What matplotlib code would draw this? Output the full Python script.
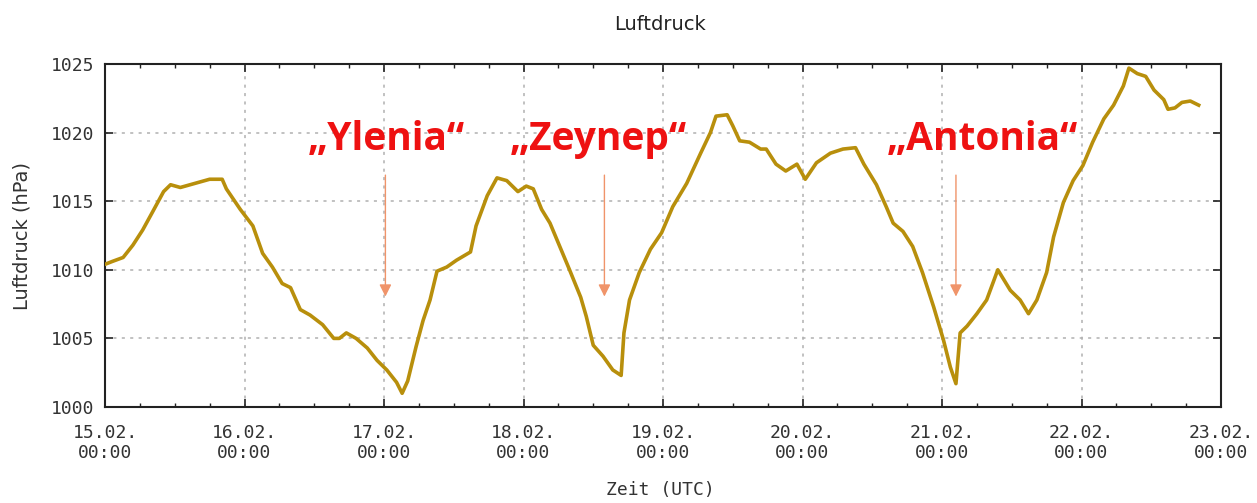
import matplotlib
matplotlib.use("Agg")
import matplotlib.pyplot as plt
import matplotlib.dates as mdates
import pandas as pd
import numpy as np

# ---------------- data ----------------
start = pd.Timestamp("2022-02-15 00:00")
days_since_start = [
    0.00, 0.05, 0.13, 0.20, 0.27, 0.34, 0.42, 0.47, 0.54, 0.61, 0.68, 0.75, 0.84, 0.87,
    0.97, 1.06, 1.13, 1.20, 1.27, 1.33, 1.40, 1.47, 1.56, 1.64, 1.68, 1.73, 1.80, 1.88,
    1.95, 2.02, 2.09, 2.13, 2.17, 2.23, 2.28, 2.33, 2.38, 2.45, 2.52, 2.62, 2.66, 2.74,
    2.81, 2.88, 2.96, 3.02, 3.07, 3.13, 3.19, 3.26, 3.33, 3.41, 3.45, 3.50, 3.57, 3.64,
    3.70, 3.72, 3.76, 3.83, 3.91, 3.99, 4.07, 4.17, 4.27, 4.34, 4.38, 4.46, 4.50, 4.55,
    4.62, 4.70, 4.74, 4.81, 4.88, 4.96, 5.02, 5.10, 5.20, 5.29, 5.38, 5.44, 5.53, 5.60,
    5.65, 5.72, 5.79, 5.86, 5.94, 6.01, 6.06, 6.10, 6.13, 6.18, 6.25, 6.32, 6.40, 6.49,
    6.56, 6.62, 6.68, 6.75, 6.80, 6.87, 6.94, 7.01, 7.08, 7.16, 7.23, 7.30, 7.34, 7.40,
    7.46, 7.52, 7.59, 7.62, 7.67, 7.72, 7.78, 7.84,
]
pressure_hpa = [
    1010.4, 1010.6, 1010.9, 1011.8, 1012.9, 1014.2, 1015.7, 1016.2, 1016.0, 1016.2, 1016.4, 1016.6, 1016.6, 1015.9,
    1014.4, 1013.2, 1011.2, 1010.2, 1009.0, 1008.7, 1007.1, 1006.7, 1006.0, 1005.0, 1005.0, 1005.4, 1005.0, 1004.3,
    1003.4, 1002.7, 1001.8, 1001.0, 1001.9, 1004.4, 1006.3, 1007.8, 1009.9, 1010.2, 1010.7, 1011.3, 1013.2, 1015.4,
    1016.7, 1016.5, 1015.7, 1016.1, 1015.9, 1014.4, 1013.4, 1011.7, 1010.0, 1008.0, 1006.6, 1004.5, 1003.7, 1002.7,
    1002.3, 1005.4, 1007.8, 1009.8, 1011.5, 1012.7, 1014.6, 1016.3, 1018.5, 1020.0, 1021.2, 1021.3, 1020.5, 1019.4,
    1019.3, 1018.8, 1018.8, 1017.7, 1017.2, 1017.7, 1016.6, 1017.8, 1018.5, 1018.8, 1018.9, 1017.7, 1016.2, 1014.6,
    1013.4, 1012.8, 1011.7, 1009.8, 1007.3, 1004.9, 1002.9, 1001.7, 1005.4, 1005.9, 1006.8, 1007.8, 1010.0, 1008.5,
    1007.8, 1006.8, 1007.8, 1009.8, 1012.4, 1014.9, 1016.5, 1017.6, 1019.3, 1021.0, 1022.0, 1023.4, 1024.7, 1024.3,
    1024.1, 1023.1, 1022.4, 1021.7, 1021.8, 1022.2, 1022.3, 1022.0,
]
storm_names = ["\u201eYlenia\u201c", "\u201eZeynep\u201c", "\u201eAntonia\u201c"]
storm_arrow_days = [2.01, 3.58, 6.10]
storm_label_days = [2.02, 3.54, 6.29]
y_ticks = [1000, 1005, 1010, 1015, 1020, 1025]
x_tick_days = list(range(0, 9))

# ---------------- plot ----------------
times = start + pd.to_timedelta(days_since_start, unit="D")
tick_times = [start + pd.Timedelta(days=d) for d in x_tick_days]

fig = plt.figure(figsize=(12.57, 5.03), dpi=100)
ax = fig.add_axes([105 / 1257, 1 - 407 / 503, (1221 - 105) / 1257, (407 - 64) / 503])

ax.plot(times, pressure_hpa, color="#b88f0c", lw=2.6, solid_joinstyle="round", zorder=3)

ax.set_xlim(tick_times[0], tick_times[-1])
ax.set_ylim(1000, 1025)

mono = "DejaVu Sans Mono"
ax.set_xticks(tick_times)
ax.set_xticklabels([t.strftime("%d.%m.\n%H:%M") for t in tick_times], family=mono,
                   fontsize=13, color="#333333", linespacing=1.2)
ax.xaxis.set_minor_locator(mdates.HourLocator(byhour=[6, 12, 18]))
ax.set_yticks(y_ticks)
ax.set_yticklabels([str(v) for v in y_ticks], family=mono, fontsize=13, color="#333333")

ax.tick_params(axis="both", which="major", direction="in", length=6, width=1.2,
               top=True, right=True, color="#222222")
ax.tick_params(axis="x", which="major", pad=12)
ax.tick_params(axis="y", which="major", pad=8)
ax.tick_params(axis="x", which="minor", direction="in", length=3, width=1.0,
               top=True, bottom=True, color="#222222")

ax.grid(True, which="major", color="#b0b0b0", linestyle=(0, (2, 3.5)), lw=1.1)
for s in ax.spines.values():
    s.set_linewidth(1.5)
    s.set_color("#222222")

fig.text(660 / 1257, 1 - 25 / 503, "Luftdruck", ha="center", va="center",
         fontsize=14, color="#222222")
fig.text(22 / 1257, 1 - 236 / 503, "Luftdruck (hPa)", ha="center", va="center",
         rotation=90, fontsize=14, color="#333333")
fig.text(660 / 1257, 1 - 490 / 503, "Zeit (UTC)", ha="center", va="center",
         family=mono, fontsize=13, color="#333333")

for name, ad, ld in zip(storm_names, storm_arrow_days, storm_label_days):
    at = start + pd.Timedelta(days=ad)
    lt = start + pd.Timedelta(days=ld)
    ax.annotate("", xy=(at, 1008.05), xytext=(at, 1016.9),
                arrowprops=dict(arrowstyle="-|>", color="#f0946a", lw=1.0,
                                mutation_scale=18, shrinkA=0, shrinkB=0), zorder=2)
    ax.text(lt, 1018.7, name, ha="center", va="baseline", color="#ee1111",
            fontsize=28, fontweight="bold", family="Open Sans", zorder=4)

fig.savefig("out.png", dpi=100)
